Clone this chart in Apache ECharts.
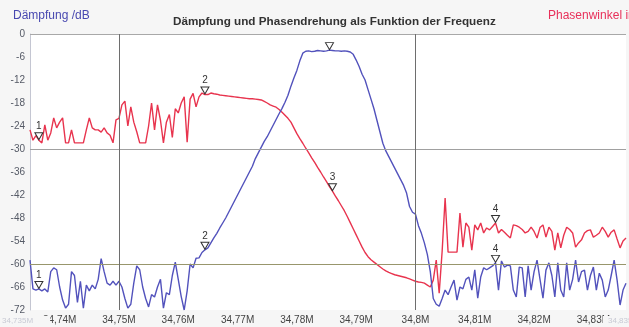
<!DOCTYPE html>
<html>
<head>
<meta charset="utf-8">
<script src="https://cdn.jsdelivr.net/npm/echarts@6/dist/echarts.min.js"></script>
<style>
  html, body { margin: 0; padding: 0; background: #f6f6f6; overflow: hidden; }
  #chart { width: 629px; height: 327px; }
</style>
</head>
<body>
<div id="chart"></div>
<script>
// Sweep: 34.735 MHz start, 0.5 kHz per point
const freqStart = 34.735;
const freqStep = 0.0005;

// Attenuation trace (dB)
const daempfung = [
  -59, -66.5, -66.8, -66.5, -67, -66.5, -67.3, -62, -61, -61.5,
  -66, -69.4, -71.5, -70.5, -62, -63, -70, -64.5, -71.5, -65.5,
  -67, -65.5, -66.5, -64, -58.6, -62, -65, -65.5, -64.5, -65.5,
  -64.5, -66, -69, -71.5, -70.5, -65, -60.5, -61.5, -66, -69,
  -71.2, -68, -68.6, -66, -64, -71.5, -67.5, -68, -63, -59.5,
  -64, -68.5, -72, -67, -60, -61, -58.5, -58.4, -57, -56.3,
  -55.8, -54.5, -53.2, -52, -50.6, -49.3, -48, -46.5, -45, -43.5,
  -42, -40.5, -39, -37.5, -36, -34.5, -32.5, -31, -29.5, -28,
  -26.8, -25.3, -23.8, -22.3, -20.8, -19.4, -17.8, -16, -13.6, -11.5,
  -9.5, -7, -5, -4.5, -4.4, -4.6, -4.5, -4.3, -4.4, -4.5,
  -4.4, -4.2, -4.3, -4.4, -4.4, -4.5, -4.4, -4.5, -4.7, -5.3,
  -6.8, -8.5, -10.5, -12, -14.5, -17, -19.5, -22.5, -25.5, -28.5,
  -30.5, -32, -33.5, -35, -36.5, -38, -39.5, -41.5, -45, -46.5,
  -47, -50, -52, -54.5, -57.5, -62, -69, -70.5, -71, -69,
  -66.8, -68, -66, -64.2, -69.4, -66, -66.5, -64, -63.4, -66.8,
  -61.5, -68.9, -63.4, -61, -61.5, -61, -60.5, -59.7, -66.8, -59.2,
  -60.8, -60.3, -60.5, -66.8, -68.6, -60.8, -61, -68.6, -60.5, -66.8,
  -62, -59, -64, -68.9, -61.6, -59.7, -63, -68.6, -59.7, -66.8,
  -68.6, -59.7, -66.8, -64, -59, -64.7, -62, -61.6, -66.8, -63,
  -60.8, -66.8, -62.4, -64.2, -68.6, -66.8, -63, -59, -64.2, -70.7,
  -66.8, -65
];

// Phase trace, drawn on the attenuation scale
const phase = [
  -25, -27.7, -26.5, -27.7, -28.4, -23.7, -27.7, -25.8, -21.9, -24.5,
  -23, -21.9, -28.4, -28.4, -25, -28.4, -28.4, -28.4, -28.4, -25,
  -21.9, -24.5, -25, -25, -25.6, -24.5, -25.8, -26.4, -28.4, -22.4,
  -22, -18.5, -17.5, -24, -19, -23, -25.5, -28.4, -28.4, -28.4,
  -24, -18, -25, -18.5, -22.5, -28.4, -23, -21, -27, -19.5,
  -20.6, -18, -16.4, -28.2, -17, -15.5, -19, -16.4, -15.4, -15.8,
  -15.8, -15.4, -15.6, -15.7, -15.9, -16, -16.1, -16.2, -16.3, -16.4,
  -16.5, -16.6, -16.7, -16.8, -16.9, -16.9, -17, -17.1, -17.2, -17.6,
  -18, -18.5, -18.8, -19.1, -19.7, -20.4, -21.2, -22, -23, -24.5,
  -26, -27.3, -28.5, -29.8, -31, -32.3, -33.5, -34.8, -36, -37.3,
  -38.5, -39.8, -41, -42.3, -43.5, -44.8, -46.1, -47.6, -49.2, -50.8,
  -52.4, -54, -55.6, -57, -58.1, -58.9, -59.5, -60.1, -60.7, -61.3,
  -61.8, -62.2, -62.5, -62.8, -63, -63.2, -63.4, -63.6, -63.9, -64.2,
  -64.5, -64.7, -64.8, -65, -65.5, -66, -64.2, -59, -67.6, -56.6,
  -42.8, -56.9, -56.9, -56.9, -56.9, -46.7, -55.6, -49.3, -50.4, -56.4,
  -49.8, -51.1, -49.3, -51.9, -50.6, -51.1, -50.2, -49.3, -51.9, -51,
  -51.7, -52.5, -53.2, -49.8, -50, -50.4, -51, -51.9, -51.5, -50.4,
  -51.5, -53.2, -50.5, -49.8, -53, -50.4, -51.5, -56.4, -51.9, -55.8,
  -52.5, -50.4, -51, -51.9, -55.6, -54.5, -53.7, -51.9, -51.3, -51.1,
  -53, -52.5, -51.9, -50.4, -51.5, -53, -51.7, -51.1, -53.5, -55.8,
  -54, -53.2
];

// Markers: [label, sweep point index]
const daempfungMarker = [['1', 3], ['2', 59], ['', 101], ['4', 157]];
const phaseMarker = [['1', 3], ['2', 59], ['3', 102], ['4', 157]];

const freqs = daempfung.map((_, i) => +(freqStart + i * freqStep).toFixed(4));
const pairs = arr => arr.map((v, i) => [freqs[i], v]);

function markerPoints(list, arr) {
  return list.map(([n, i]) => ({
    coord: [freqs[i], arr[i]],
    label: { formatter: n }
  }));
}

const markerStyle = {
  symbol: 'triangle',
  symbolSize: [8, 7],
  symbolRotate: 180,
  symbolOffset: [0, -4],
  itemStyle: { color: 'rgba(255,255,255,0)', borderColor: '#333', borderWidth: 1 },
  label: { show: true, position: 'top', distance: 1, color: '#333', fontSize: 10, fontFamily: 'Liberation Sans' },
  silent: true
};

const fmtFreq = v => {
  const r = Math.round(v * 1000);
  if (r % 10 !== 0) return '';
  return (r / 1000).toString().replace('.', ',') + 'M';
};

const chart = echarts.init(document.getElementById('chart'), null, { renderer: 'canvas' });
chart.setOption({
  backgroundColor: '#f6f6f6',
  animation: false,
  title: {
    text: 'Dämpfung und Phasendrehung als Funktion der Frequenz',
    left: 168, top: 11,
    textStyle: { fontFamily: 'Liberation Sans', fontSize: 11.7, fontWeight: 'bold', color: '#333' }
  },
  grid: { left: 30, right: 0, top: 34, bottom: 17, show: true, backgroundColor: '#fff', borderWidth: 0 },
  xAxis: {
    type: 'value', min: freqStart, max: 34.8355, interval: 0.005,
    axisLine: { show: false }, axisTick: { show: false }, splitLine: { show: false },
    axisLabel: { formatter: fmtFreq, fontSize: 10, fontFamily: 'Liberation Sans', color: '#444', margin: 5, showMinLabel: true, showMaxLabel: true }
  },
  yAxis: {
    type: 'value', min: -72, max: 0, interval: 6,
    axisLine: { show: true, lineStyle: { color: '#c4c6d2' } },
    axisTick: { show: false }, splitLine: { show: false },
    axisLabel: { fontSize: 10, fontFamily: 'Liberation Sans', color: '#555a66', margin: 5 }
  },
  graphic: [
    { type: 'text', left: 13, top: 10, style: { text: 'Dämpfung /dB', fill: '#4848b0', font: '12px "Liberation Sans"' } },
    { type: 'text', left: 548, top: 10, style: { text: 'Phasenwinkel in °', fill: '#e8305a', font: '12px "Liberation Sans"' } },
    { type: 'text', left: 0, top: 316, z: 100, style: { text: '34,735M', fill: '#c8cad4', font: '8px "Liberation Sans"', backgroundColor: '#f6f6f6', padding: [1, 17, 1, 2] } },
    { type: 'text', left: 603, top: 316, z: 100, style: { text: '34,835M', fill: '#c8cad4', font: '8px "Liberation Sans"', backgroundColor: '#f6f6f6', padding: [1, 4, 1, 5] } }
  ],
  series: [
    {
      type: 'line', data: [], silent: true,
      markLine: {
        silent: true, symbol: 'none', label: { show: false },
        data: [
          { yAxis: 0, lineStyle: { color: '#a8a8a8', type: 'solid', width: 1 } },
          { yAxis: -30, lineStyle: { color: '#a0a0a0', type: 'solid', width: 1 } },
          { yAxis: -60, lineStyle: { color: '#98966c', type: 'solid', width: 1 } },
          { xAxis: 34.75, lineStyle: { color: '#6e6e6e', type: 'solid', width: 1 } },
          { xAxis: 34.8, lineStyle: { color: '#6e6e6e', type: 'solid', width: 1 } }
        ]
      }
    },
    {
      name: 'Phasenwinkel', type: 'line', data: pairs(phase), showSymbol: false,
      lineStyle: { color: '#e8344e', width: 1.4 }, z: 3,
      markPoint: Object.assign({ data: markerPoints(phaseMarker, phase) }, markerStyle)
    },
    {
      name: 'Dämpfung', type: 'line', data: pairs(daempfung), showSymbol: false,
      lineStyle: { color: '#5252bc', width: 1.4 }, z: 4,
      markPoint: Object.assign({ data: markerPoints(daempfungMarker, daempfung) }, markerStyle)
    }
  ]
});
</script>
</body>
</html>
